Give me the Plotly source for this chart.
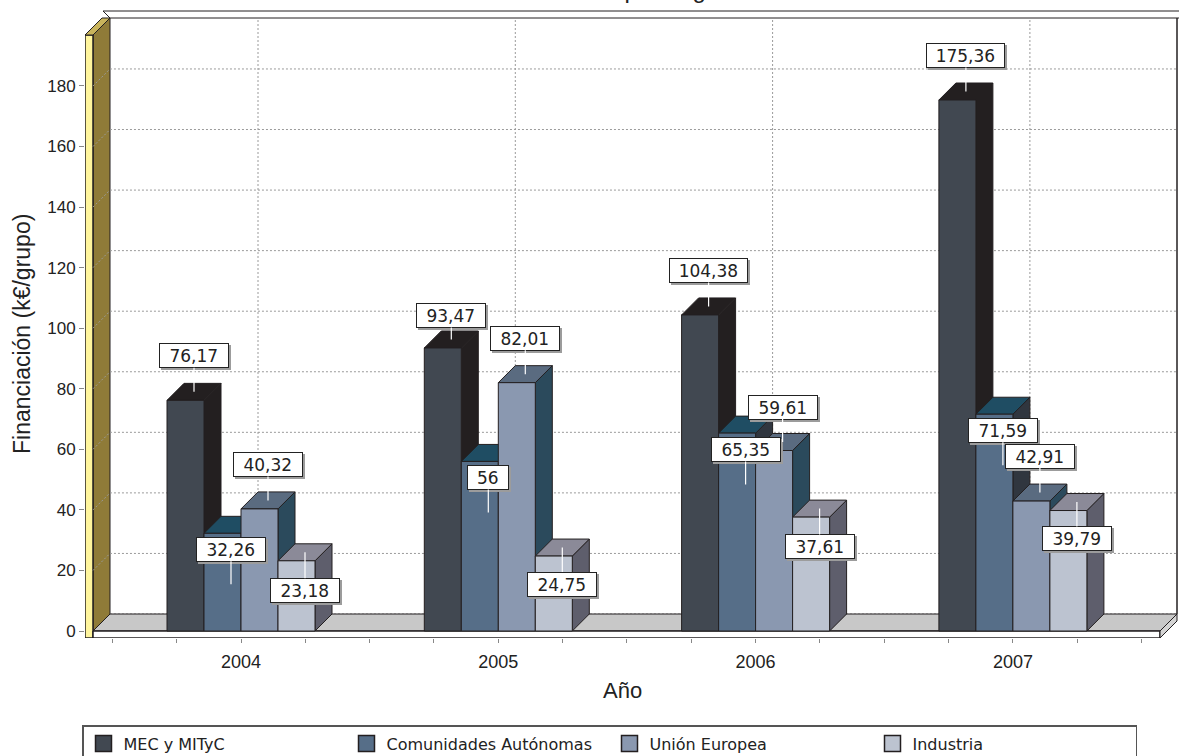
import plotly.graph_objects as go

# ---- data ----
years = ["2004", "2005", "2006", "2007"]
series_names = ["MEC y MITyC", "Comunidades Autónomas", "Unión Europea", "Industria"]
mec = [76.17, 93.47, 104.38, 175.36]
comunidades = [32.26, 56, 65.35, 71.59]
union_europea = [40.32, 82.01, 59.61, 42.91]
industria = [23.18, 24.75, 37.61, 39.79]
y_ticks = [0, 20, 40, 60, 80, 100, 120, 140, 160, 180]

series_values = [mec, comunidades, union_europea, industria]

# ---- styling ----
front_colors = ["#414851", "#566e88", "#8a98b0", "#bcc3d0"]
top_colors = ["#231f20", "#1f4d63", "#5a6b80", "#8b8a98"]
side_colors = ["#231f20", "#30363f", "#2b4a5c", "#5e5e6c"]
edge = "#231f20"
SANS = "Liberation Sans, Arial, sans-serif"
LABEL_FONT = "DejaVu Sans, Verdana, sans-serif"

W, H = 1179, 756
# pseudo-3D scene geometry (pixels)
PX_CAT0, PX_PER_CAT = 241.0, 257.3      # x pixel of first category, pixels per category
PX_VAL0, PX_PER_VAL = 631.0, 3.028      # y pixel of value 0 on front plane, pixels per unit
DEPTH = 17.0                            # depth offset of the back plane
DOM_LEFT, DOM_BOTTOM = 85.0, 638.0

def xd(px):
    return (px - PX_CAT0) / PX_PER_CAT

def yd(py):
    return (PX_VAL0 - py) / PX_PER_VAL

DX = DEPTH / PX_PER_CAT
DY = DEPTH / PX_PER_VAL
BAR_W = 37.0 / PX_PER_CAT
GROUP_W = 4 * BAR_W

fig = go.Figure()

def poly(pts_px, fill, line_color=edge, width=1.0):
    xs = [xd(p[0]) for p in pts_px] + [xd(pts_px[0][0])]
    ys = [yd(p[1]) for p in pts_px] + [yd(pts_px[0][1])]
    fig.add_trace(go.Scatter(x=xs, y=ys, mode="lines", fill="toself", fillcolor=fill,
                             line=dict(color=line_color, width=width),
                             hoverinfo="skip", showlegend=False))

def poly_data(xs, ys, fill):
    fig.add_trace(go.Scatter(x=xs + [xs[0]], y=ys + [ys[0]], mode="lines", fill="toself",
                             fillcolor=fill, line=dict(color=edge, width=1),
                             hoverinfo="skip", showlegend=False))

# left wall and top frame
poly([(93, 35), (110, 18), (110, 614), (93, 631)], "#8f7b38")
poly([(85, 35), (93, 35), (93, 638), (85, 638)], "#fff59d", width=1.5)
poly([(85, 35), (93, 35), (110, 18), (102, 18)], "#c9b45c")
poly([(103, 11), (1190, 11), (1190, 18), (110, 18)], "#ffffff")
fig.add_trace(go.Scatter(x=[xd(1177), xd(1177)], y=[yd(18), yd(614)], mode="lines",
                         line=dict(color=edge, width=1.5), hoverinfo="skip", showlegend=False))

# gridlines on the back wall (with the diagonal across the side wall)
x_front_left = xd(93)
x_back_right = xd(1177)
gx, gy = [], []
for v in y_ticks:
    gx += [x_front_left, x_front_left + DX, x_back_right, None]
    gy += [v, v + DY, v + DY, None]
for i in range(len(years)):
    gx += [i + DX, i + DX, None]
    gy += [DY, yd(18), None]
fig.add_trace(go.Scatter(x=gx, y=gy, mode="lines",
                         line=dict(color="#9a9a9a", width=1, dash="2px,2px"),
                         hoverinfo="skip", showlegend=False))

# floor
poly([(93, 631), (1160, 631), (1177, 614), (110, 614)], "#c8c8c8")
poly([(93, 631), (1160, 631), (1160, 638), (93, 638)], "#ffffff", width=1.5)
poly([(1160, 631), (1177, 614), (1177, 621), (1160, 638)], "#d4d4d4")

# bars: side, top and front faces, left to right
for g in range(len(years)):
    for s, vals in enumerate(series_values):
        v = vals[g]
        xl = g - GROUP_W / 2 + s * BAR_W
        xr = xl + BAR_W
        poly_data([xr, xr + DX, xr + DX, xr], [0, DY, v + DY, v], side_colors[s])
        poly_data([xl, xr, xr + DX, xl + DX], [v, v, v + DY, v + DY], top_colors[s])
        poly_data([xl, xr, xr, xl], [0, 0, v, v], front_colors[s])

# legend entries
for s, name in enumerate(series_names):
    fig.add_trace(go.Scatter(x=[None], y=[None], mode="markers", name=name,
                             marker=dict(symbol="square", size=16, color=front_colors[s],
                                         line=dict(color=edge, width=1.5))))

# value labels: box offset from the top-face centre and leader end relative to box
label_box_dy = [
    [-36, -24, -36, -36],
    [24.5, 24.5, 25, 24.5],
    [-36, -36, -35, -36.5],
    [38, 36.5, 38, 36.5],
]
label_lead = [
    [36, 24, 36, 36],
    [35, 35, 35, 35],
    [36, 36, 35, 36.5],
    [-38, -36.5, -38, -36.5],
]

def fmt(v):
    s = f"{v:.2f}".rstrip("0").rstrip(".")
    return s.replace(".", ",")

annotations = []
shadows = []
for g in range(len(years)):
    for s, vals in enumerate(series_values):
        v = vals[g]
        xl = g - GROUP_W / 2 + s * BAR_W
        ax_x = xl + BAR_W / 2 + DX / 2
        top_px = PX_VAL0 - (v + DY / 2) * PX_PER_VAL
        anchor_px = top_px + label_box_dy[s][g] + label_lead[s][g]
        ay_val = yd(anchor_px)
        txt = fmt(v)
        bw = 9.3 * len(txt) + 17
        common = dict(x=ax_x, y=ay_val, xref="x", yref="y", ax=0, ay=-label_lead[s][g],
                      showarrow=True, arrowhead=0, standoff=0, startstandoff=0,
                      width=bw, height=19, borderpad=2, borderwidth=1)
        shadows.append(dict(common, text=" ", xshift=2, yshift=-2, bgcolor="#9c9c9c",
                            bordercolor="#9c9c9c", arrowcolor="rgba(0,0,0,0)",
                            font=dict(family=LABEL_FONT, size=17, color="#9c9c9c")))
        annotations.append(dict(common, text=txt, bgcolor="#ffffff", bordercolor="#222222",
                                arrowcolor="#ffffff", arrowwidth=1.2,
                                font=dict(family=LABEL_FONT, size=17, color="#222222")))

titles = [
    dict(text="Financiación por origen", x=607 / W, y=1 - 4 / H, xref="paper", yref="paper",
         xanchor="center", yanchor="bottom", showarrow=False, borderpad=0,
         font=dict(family=SANS, size=24, color="#222222")),
    dict(text="Financiación (k€/grupo)", x=22 / W, y=1 - 334 / H, xref="paper", yref="paper",
         xanchor="center", yanchor="middle", textangle=-90, showarrow=False,
         font=dict(family=SANS, size=23, color="#222222")),
    dict(text="Año", x=622 / W, y=1 - 690 / H, xref="paper", yref="paper",
         xanchor="center", yanchor="middle", showarrow=False,
         font=dict(family=SANS, size=22, color="#222222")),
]

x_tickvals = [i / 4 for i in range(-2, 15)]
x_ticktext = [years[int(t)] if float(t).is_integer() and 0 <= t < len(years) else "" for t in x_tickvals]

fig.update_layout(
    width=W, height=H,
    margin=dict(l=0, r=0, t=0, b=0, autoexpand=False),
    paper_bgcolor="#ffffff", plot_bgcolor="rgba(0,0,0,0)",
    xaxis=dict(domain=[DOM_LEFT / W, 1], range=[xd(DOM_LEFT), xd(W)],
               tickvals=x_tickvals, ticktext=x_ticktext, ticks="outside", ticklen=4,
               tickcolor="#888888", showgrid=False, zeroline=False, showline=False,
               ticklabelstandoff=3, automargin=False,
               tickfont=dict(family=SANS, size=18, color="#222222")),
    yaxis=dict(domain=[1 - DOM_BOTTOM / H, 1], range=[yd(DOM_BOTTOM), yd(0)],
               tickvals=y_ticks, ticks="outside", ticklen=5, tickcolor="#888888",
               showgrid=False, zeroline=False, showline=False, automargin=False,
               tickfont=dict(family=SANS, size=17, color="#222222")),
    legend=dict(orientation="h", x=82 / W, y=1 - 725 / H, xanchor="left", yanchor="top",
                bordercolor="#555555", borderwidth=1.5, bgcolor="#ffffff",
                entrywidth=218, entrywidthmode="pixels", itemwidth=30,
                font=dict(family=LABEL_FONT, size=16, color="#222222")),
    annotations=shadows + annotations + titles,
    showlegend=True,
)

fig.write_html("out.html")
